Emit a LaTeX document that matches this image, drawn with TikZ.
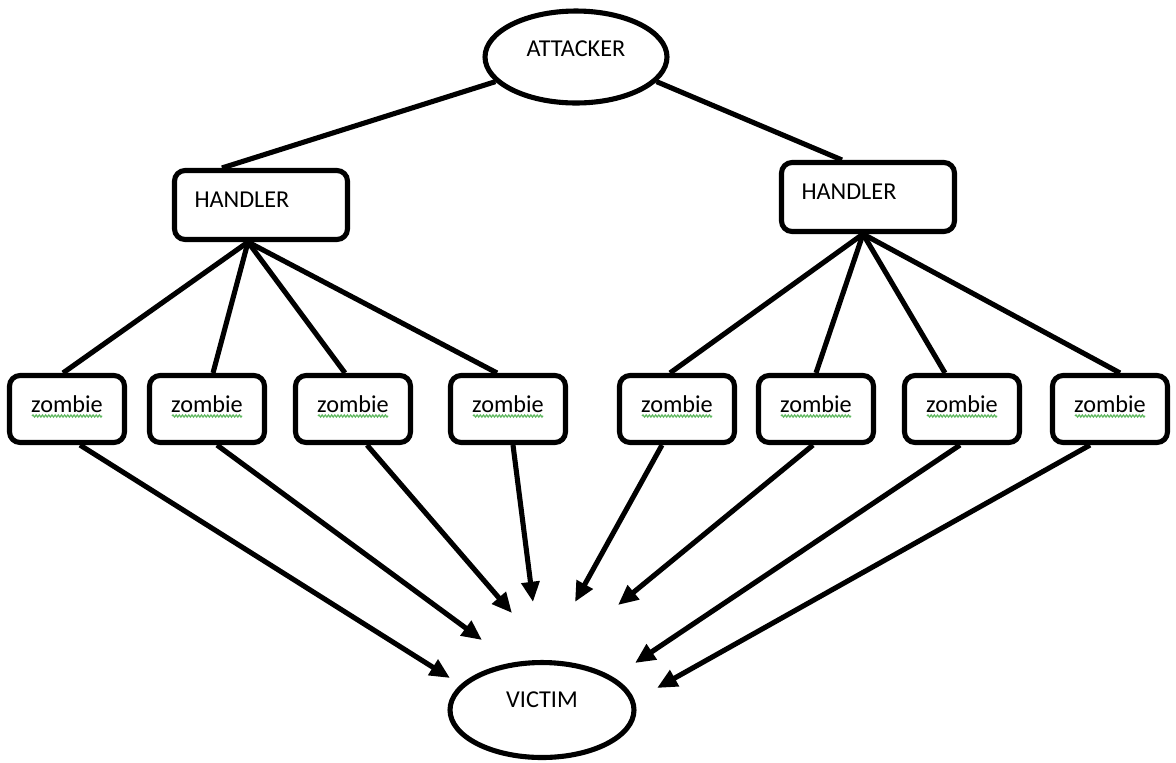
\documentclass[tikz,border=0pt]{standalone}
\usepackage{fontspec}
\setmainfont{Carlito}
\usetikzlibrary{shapes.geometric,arrows.meta,decorations.pathmorphing}
\definecolor{spellgreen}{RGB}{96,184,96}

\begin{document}
\begin{tikzpicture}[x=0.02cm, y=-0.02cm,
    every node/.style={font=\fontsize{13.8}{16}\selectfont},
    line/.style={line width=2.9pt},
    actor/.style={ellipse, draw, line width=2.9pt, inner sep=0pt},
    box/.style={draw, line width=2.9pt, rounded corners=6pt},
    handler/.style={text width=2.66cm, inner xsep=0.4cm, align=left,
                    minimum height=1.38cm, text depth=5.8pt},
    zombie/.style={minimum width=2.3cm, minimum height=1.34cm, text depth=5.8pt},
    squiggle/.style={spellgreen, line width=0.7pt,
                     decorate, decoration={snake, segment length=1.8pt, amplitude=0.6pt}},
    hit/.style={line width=2.9pt, -{Triangle[length=11.5pt, width=10pt]}}]
  \useasboundingbox (0,0) rectangle (1176,762);

  % Attacker and victim
  \node[actor, minimum width=3.64cm, minimum height=1.84cm, text depth=9.4pt]
    (attacker) at (576,57) {ATTACKER};
  \node[actor, minimum width=3.68cm, minimum height=1.9cm, text depth=11.8pt]
    (victim) at (542,710) {VICTIM\hspace{19pt}};

  % Handlers
  \node[box, handler] (handlerL) at (261,205) {HANDLER};
  \node[box, handler] (handlerR) at (868,197) {HANDLER};

  % Zombies
  \foreach \i/\x in {1/67,2/207,3/353,4/508,5/677,6/816,7/962,8/1110}{
    \node[box, zombie] (z\i) at (\x,409) {zombie};
    \draw[squiggle] ([shift={(-35,7)}]z\i.center) -- ++(70,0);
  }

  % Attacker to handlers
  \draw[line] (attacker.197) -- ([xshift=1cm]handlerL.north west);
  \draw[line] (attacker.343) -- ([xshift=1.26cm]handlerR.north west);

  % Handlers to zombies
  \foreach \i/\dx in {1/-4,2/6,3/-8,4/-11}{
    \draw[line] ([xshift=-0.26cm]handlerL.south) -- ([xshift=\dx*0.02cm]z\i.north);
  }
  \foreach \i/\dx in {5/-7,6/0,7/-17,8/10}{
    \draw[line] ([xshift=-0.1cm]handlerR.south) -- ([xshift=\dx*0.02cm]z\i.north);
  }

  % Zombies flood the victim
  \foreach \i/\dx/\tx/\ty in {1/13/450/678, 2/10/482/640, 3/14/512/613, 4/5/533/602,
                               5/-15/575/602, 6/-3/618/605, 7/-2/635/663, 8/-20/657/688}{
    \coordinate (t\i) at (\tx,\ty);
    \draw[hit] ([xshift=\dx*0.02cm]z\i.south) -- (t\i);
  }
\end{tikzpicture}
\end{document}
